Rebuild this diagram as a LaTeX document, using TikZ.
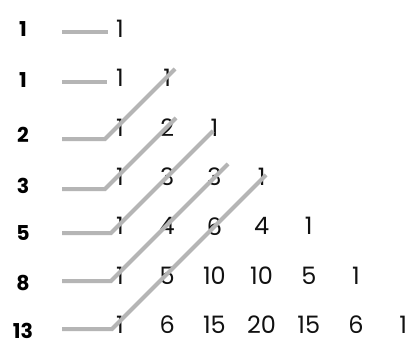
\documentclass[tikz,border=0pt]{standalone}
\usepackage{fontspec}
\setmainfont{Poppins}
\newfontfamily\labfont{Poppins}
\usetikzlibrary{positioning}
\definecolor{fbline}{HTML}{B5B5B5}
\definecolor{fbtext}{HTML}{111111}

\begin{document}
\begin{tikzpicture}[x=1pt,y=-1pt,
    fibnum/.style={font=\fontsize{24}{24}\selectfont,text=fbtext,inner sep=0pt},
    fiblab/.style={font=\labfont\bfseries\fontsize{20.5}{20.5}\selectfont,text=black,inner sep=0pt},
    fibline/.style={draw=fbline,line width=4pt}]
    \useasboundingbox[fill=white] (0,0) rectangle (413,348);
    % sums on the left
    \foreach \s/\y [count=\r] in {1/29,1/80,2/135,3/185.5,5/233,8/283,13/331} {
      \node[fiblab] (lab\r) at (23,\y) {\s};
    }
    % the triangle
    \foreach \row [count=\r] in {{1},{1,1},{1,2,1},{1,3,3,1},{1,4,6,4,1},{1,5,10,10,5,1},{1,6,15,20,15,6,1}} {
      \foreach \v [count=\c] in \row {
        \node[fibnum] (n\r-\c) at ({120+47.2*(\c-1)},{29+49.3*(\r-1)}) {\v};
      }
    }
    % leader lines
    \foreach \r/\y/\xk in {1/32/108,2/82/107,3/139/105,4/189/105,5/233/111,6/281/111,7/329/112} {
      \coordinate (s\r) at (62,\y);
      \coordinate (k\r) at (\xk,\y);
    }
    \draw[fibline] (s1) -- (k1);
    \draw[fibline] (s2) -- (k2);
    \foreach \r/\d in {3/70,4/71,5/102,6/117,7/154} {
      \path (k\r) ++(\d,-\d) coordinate (e\r);
      \draw[fibline] (s\r) -- (k\r) -- (e\r);
    }
  \end{tikzpicture}
\end{document}
